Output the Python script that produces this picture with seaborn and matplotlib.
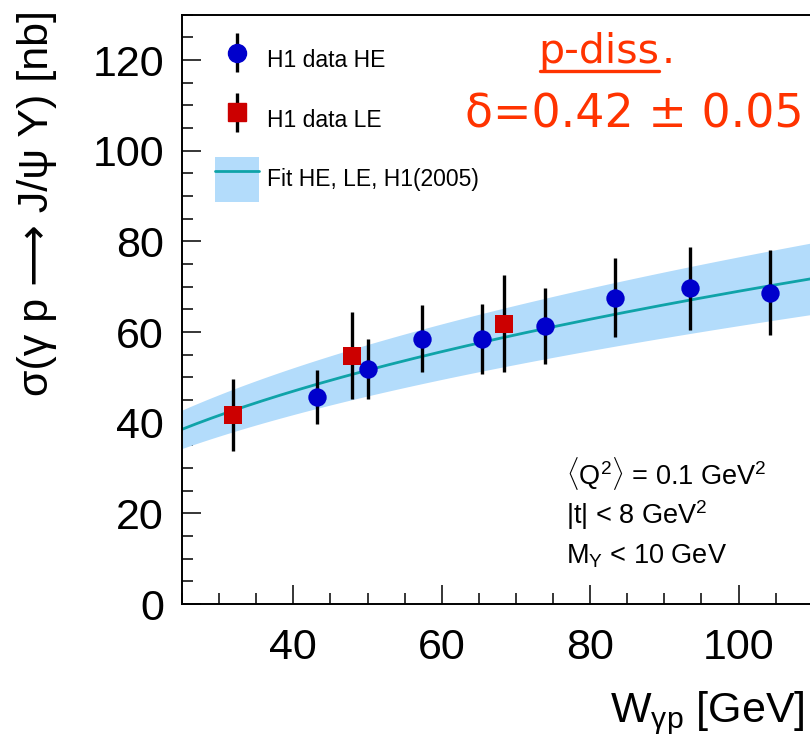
import numpy as np
import pandas as pd
import matplotlib
matplotlib.use("Agg")
import matplotlib.pyplot as plt
import seaborn as sns
from matplotlib.lines import Line2D
from matplotlib.patches import Patch
from matplotlib.container import ErrorbarContainer
from matplotlib.legend_handler import HandlerErrorbar, HandlerTuple
from matplotlib.ticker import MultipleLocator

# H1 proton-dissociative J/psi photoproduction cross sections
w_he = [43.15, 50.1, 57.4, 65.4, 73.9, 83.3, 93.4, 104.3]
sig_he = [45.7, 51.8, 58.5, 58.5, 61.3, 67.6, 69.6, 68.7]
err_he = [6.0, 6.6, 7.4, 7.7, 8.3, 8.8, 9.2, 9.3]

w_le = [31.9, 47.9, 68.4]
sig_le = [41.7, 54.8, 61.8]
err_le = [8.0, 9.6, 10.7]

# power-law fit sigma = N (W / W0)^delta with its relative uncertainty band
delta = 0.42
norm = 66.0
w0 = 90.0
band_rel = 0.11

x_ticks = [40, 60, 80, 100]
y_ticks = [0, 20, 40, 60, 80, 100, 120]

sns.set_style("ticks")
plt.rcParams["font.family"] = ["Liberation Sans", "DejaVu Sans"]
plt.rcParams["mathtext.fontset"] = "custom"
plt.rcParams["mathtext.rm"] = "Liberation Sans"
plt.rcParams["mathtext.it"] = "Liberation Sans:italic"
plt.rcParams["mathtext.sf"] = "Liberation Sans"
for key in ["text.color", "axes.labelcolor", "xtick.color", "ytick.color", "axes.edgecolor"]:
    plt.rcParams[key] = "black"

fig = plt.figure(figsize=(8.1, 7.38), dpi=100)
ax = fig.add_axes([182 / 810, 1 - 604 / 738, (812.7 - 182) / 810, (604 - 14.7) / 738])

he = pd.DataFrame({"W": w_he, "sigma": sig_he, "err": err_he})
le = pd.DataFrame({"W": w_le, "sigma": sig_le, "err": err_le})

w_grid = np.linspace(25, 110, 300)
fit = pd.DataFrame({"W": w_grid, "sigma": norm * (w_grid / w0) ** delta})

band_color = "#b3dcfb"
line_color = "#0fa3a8"
blue = "#0000cc"
red = "#cc0000"

ax.fill_between(fit["W"], fit["sigma"] * (1 - band_rel), fit["sigma"] * (1 + band_rel),
                color=band_color, lw=0, zorder=1)
sns.lineplot(data=fit, x="W", y="sigma", ax=ax, color=line_color, lw=2.0, zorder=2)

ax.errorbar(he["W"], he["sigma"], yerr=he["err"], fmt="none", ecolor="black",
            elinewidth=2.4, capsize=0, zorder=3)
ax.errorbar(le["W"], le["sigma"], yerr=le["err"], fmt="none", ecolor="black",
            elinewidth=2.4, capsize=0, zorder=3)
sns.scatterplot(data=he, x="W", y="sigma", ax=ax, marker="o", s=175, color=blue,
                edgecolor=blue, linewidth=0, zorder=4)
sns.scatterplot(data=le, x="W", y="sigma", ax=ax, marker="s", s=175, color=red,
                edgecolor=red, linewidth=0, zorder=4)

ax.set_xlim(25, 110)
ax.set_ylim(0, 130)
ax.set_xticks(x_ticks)
ax.set_yticks(y_ticks)
ax.xaxis.set_minor_locator(MultipleLocator(5))
ax.yaxis.set_minor_locator(MultipleLocator(5))
ax.tick_params(which="major", direction="in", length=14, width=1.1, labelsize=31,
               top=False, right=False)
ax.tick_params(axis="y", which="major", pad=13)
ax.tick_params(axis="x", which="major", pad=17.5)
ax.tick_params(which="minor", direction="in", length=8, width=1.1, top=False, right=False)
for side in ["left", "bottom", "top"]:
    ax.spines[side].set_linewidth(1.4)
    ax.spines[side].set_color("black")
ax.spines["right"].set_visible(False)
ax.set_xlabel("")
ax.set_ylabel("")

fig.text(610 / 810, 1 - 722 / 738, r"W$_{\mathrm{\gamma p}}$ [GeV]", fontsize=31,
         ha="left", va="baseline")
fig.text(37 / 810, 1 - 10 / 738, "σ(γ p ⟶ J/ψ Y) [nb]", fontsize=31, rotation=90,
         ha="center", va="top")

# legend
mk_he = Line2D([], [], marker="o", ls="none", color=blue, markersize=13)
mk_le = Line2D([], [], marker="s", ls="none", color=red, markersize=13)
eb_leg_he = ax.errorbar([np.nan], [np.nan], yerr=[1], fmt="none", ecolor="black", elinewidth=2.4)
eb_leg_le = ax.errorbar([np.nan], [np.nan], yerr=[1], fmt="none", ecolor="black", elinewidth=2.4)
band_proxy = (Patch(color=band_color, lw=0), Line2D([], [], color=line_color, lw=2.0))
leg = ax.legend(
    [(eb_leg_he, mk_he), (eb_leg_le, mk_le), band_proxy],
    ["H1 data HE", "H1 data LE", "Fit HE, LE, H1(2005)"],
    handler_map={ErrorbarContainer: HandlerErrorbar(yerr_size=0.85),
                 tuple: HandlerTuple(ndivide=1)},
    loc="upper left", bbox_to_anchor=(215 / 810, 1 - 38 / 738),
    bbox_transform=fig.transFigure, frameon=False, fontsize=16.5,
    handlelength=1.92, handleheight=2.65, labelspacing=0.62, handletextpad=0.35,
    borderpad=0, borderaxespad=0,
)

# cut conditions
cond = [r"$\langle$Q$^2\rangle$ = 0.1 GeV$^2$", r"|t| < 8 GeV$^2$", r"M$_\mathrm{Y}$ < 10 GeV"]
for i, s in enumerate(cond):
    fig.text(566 / 810, 1 - (485 + 39.5 * i) / 738, s, fontsize=19.5, ha="left", va="baseline")

# slope parameter of the fit
orange = "#ff3300"
fig.text(538 / 810, 1 - 63 / 738, "p-diss", fontsize=29.5, color=orange,
         family="DejaVu Sans", ha="left", va="baseline")
fig.text(662 / 810, 1 - 63 / 738, ".", fontsize=29.5, color=orange,
         family="DejaVu Sans", ha="left", va="baseline")
fig.add_artist(Line2D([540 / 810, 659 / 810], [1 - 71 / 738, 1 - 71 / 738],
                      color=orange, lw=2.4, transform=fig.transFigure))
fig.text(465 / 810, 1 - 128 / 738, "δ=0.42 ± 0.05", fontsize=33, color=orange,
         family="DejaVu Sans", ha="left", va="baseline")

fig.savefig("out.png", dpi=100)
